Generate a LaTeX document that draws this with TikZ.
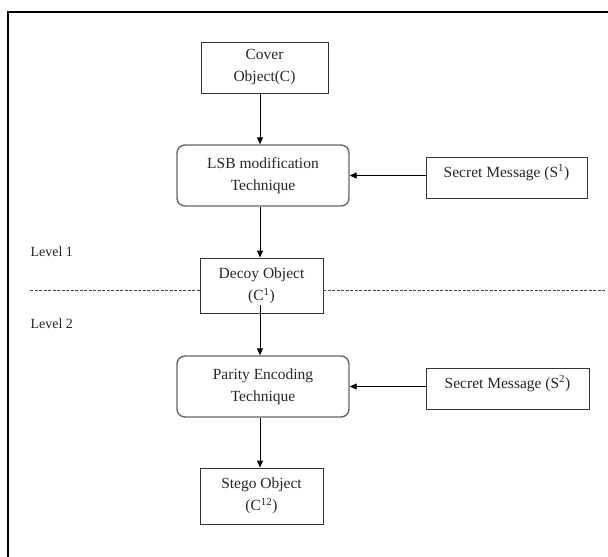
\documentclass[tikz,border=0pt]{standalone}
\usepackage{fontspec}
\setmainfont{Liberation Serif}
\usetikzlibrary{arrows.meta}
\begin{document}
\begin{tikzpicture}[x=1pt,y=-1pt,
  every node/.style={font=\fontsize{15.5}{22}\selectfont, align=center, text=black!85},
  sqbox/.style={draw=black!80, line width=0.9pt, inner sep=0pt},
  rbox/.style={draw=black!60, line width=1.4pt, rounded corners=8pt, inner sep=0pt},
  msgbox/.style={draw=black!80, line width=0.9pt, inner xsep=4pt, inner ysep=4pt, text height=16pt, text depth=17pt},
  arr/.style={draw=black, line width=0.9pt, -{Triangle[length=7pt,width=6pt]}},
  lvl/.style={anchor=west, font=\fontsize{14}{16}\selectfont},
  sep/.style={draw=black!70, line width=0.7pt, dash pattern=on 3pt off 1.5pt}]
\useasboundingbox (0,0) rectangle (608,557);
\draw[line width=2pt] (8,557) -- (8,12) -- (608,12);
\coordinate (axis) at (260,0);
\coordinate (lft) at (30,290);
\coordinate (rgt) at (606,290);
\node[sqbox, minimum width=127pt, minimum height=51pt] (cover) at (264.5,67.5) {Cover\\Object(C)};
\node[rbox, minimum width=172pt, minimum height=61pt] (lsb) at (263,175.5) {LSB modification\\Technique};
\node[msgbox, minimum width=161pt] (s1) at (506.5,177.5) {Secret Message (S\textsuperscript{1})};
\node[sqbox, minimum width=123pt, minimum height=55pt] (decoy) at (261.5,285.5) {Decoy Object\\(C\textsuperscript{1})};
\node[rbox, minimum width=172pt, minimum height=61pt] (parity) at (263,386.5) {Parity Encoding\\Technique};
\node[msgbox, minimum width=163pt] (s2) at (507.5,388.5) {Secret Message (S\textsuperscript{2})};
\node[sqbox, minimum width=123pt, minimum height=56pt] (stego) at (261.5,496) {Stego Object\\(C\textsuperscript{12})};
\node[lvl] (lv1) at (27,252) {Level 1};
\node[lvl] (lv2) at (27,324) {Level 2};
\draw[sep] (lft) -- (decoy.west |- lft);
\draw[sep] (decoy.east |- rgt) -- (rgt);
\draw[arr] (cover.south -| axis) -- (lsb.north -| axis);
\draw[arr] (lsb.south -| axis) -- (decoy.north -| axis);
\draw[arr] ([yshift=8pt]decoy.south -| axis) -- (parity.north -| axis);
\draw[arr] (parity.south -| axis) -- (stego.north -| axis);
\draw[arr] (s1.west |- lsb.east) -- (lsb.east);
\draw[arr] (s2.west |- parity.east) -- (parity.east);
\end{tikzpicture}
\end{document}
